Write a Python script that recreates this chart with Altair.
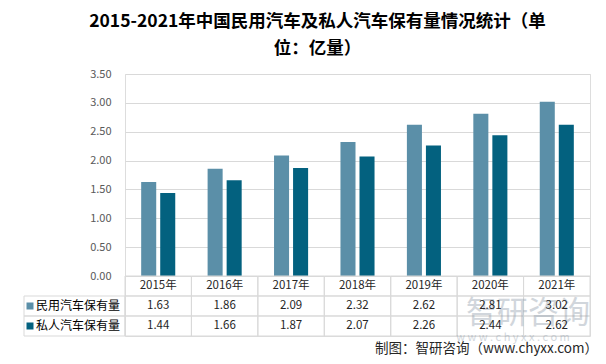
import altair as alt
import pandas as pd

FONT = "Noto Sans CJK SC"

years = ["2015年", "2016年", "2017年", "2018年", "2019年", "2020年", "2021年"]
series = ["民用汽车保有量", "私人汽车保有量"]
civil = [1.63, 1.86, 2.09, 2.32, 2.62, 2.81, 3.02]
private = [1.44, 1.66, 1.87, 2.07, 2.26, 2.44, 2.62]
colors = ["#5B8FA8", "#03617F"]
y_ticks = [0, 0.5, 1.0, 1.5, 2.0, 2.5, 3.0, 3.5]
header_row = "年份"
rows = [header_row] + series
title_lines = ["2015-2021年中国民用汽车及私人汽车保有量情况统计（单", "位：亿量）"]
source_text = "制图：智研咨询（www.chyxx.com）"

# ---- tables built from the lists ----
bar_records = []
for s, vals in zip(series, [civil, private]):
    for y, v in zip(years, vals):
        bar_records.append({"year": y, "series": s, "value": v})
bars_df = pd.DataFrame(bar_records)

cell_records = []
for y in years:
    cell_records.append({"year": y, "row": header_row, "text": y})
for s, vals in zip(series, [civil, private]):
    for y, v in zip(years, vals):
        cell_records.append({"year": y, "row": s, "text": f"{v:.2f}"})
cells_df = pd.DataFrame(cell_records)
left_df = pd.DataFrame({"row": series, "series": series})

W, H_PLOT, H_TABLE = 465, 202, 60

x_enc = alt.X("year:N", sort=years,
              scale=alt.Scale(domain=years, paddingInner=0, paddingOuter=0),
              axis=None)
color_scale = alt.Scale(domain=series, range=colors)
row_scale = alt.Scale(domain=rows, range=[H_PLOT, H_PLOT + H_TABLE],
                      paddingInner=0, paddingOuter=0)
y_row = alt.Y("row:N", scale=row_scale, axis=None)

bars = alt.Chart(bars_df).mark_bar().encode(
    x=x_enc,
    xOffset=alt.XOffset("series:N", sort=series,
                        scale=alt.Scale(domain=series, paddingInner=0.21, paddingOuter=0.85)),
    y=alt.Y("value:Q",
            scale=alt.Scale(domain=[0, 3.5], range=[H_PLOT, 0], nice=False, zero=True),
            axis=alt.Axis(values=y_ticks, format=".2f", grid=True, gridColor="#D9D9D9",
                          gridWidth=1, domain=False, ticks=False, labelPadding=14,
                          labelFontSize=11, labelColor="#595959", labelFont=FONT,
                          title=None)),
    color=alt.Color("series:N", scale=color_scale, legend=None),
)

cells = alt.Chart(cells_df).mark_rect(fill="transparent", stroke="#D9D9D9", strokeWidth=1).encode(
    x=x_enc, y=y_row
)
cell_text = alt.Chart(cells_df).mark_text(font=FONT, fontSize=11.5, color="#262626",
                                          baseline="middle", align="center").encode(
    x=x_enc, y=y_row, text="text:N"
)
left_cells = alt.Chart(left_df).mark_rect(fill="transparent", stroke="#D9D9D9", strokeWidth=1).encode(
    x=alt.value(-101), x2=alt.value(0), y=y_row
)
squares = alt.Chart(left_df).mark_square(size=49, opacity=1).encode(
    x=alt.value(-95), y=y_row,
    color=alt.Color("series:N", scale=color_scale, legend=None),
)
left_text = alt.Chart(left_df).mark_text(font=FONT, fontSize=12, color="#000000",
                                         align="left", baseline="middle").encode(
    x=alt.value(-89), y=y_row, text="series:N"
)

one = pd.DataFrame({"k": [0]})
wm_main = alt.Chart(one).mark_text(font=FONT, fontSize=31, color="#8E9BAA", opacity=0.4,
                                   align="center", baseline="middle").encode(
    x=alt.value(403), y=alt.value(240), text=alt.value("智研咨询"))
wm_sub = alt.Chart(one).mark_text(font=FONT, fontSize=11, color="#8E9BAA", opacity=0.4,
                                  align="center", baseline="middle").encode(
    x=alt.value(388), y=alt.value(264), text=alt.value("w w w . c h y x x . c o m"))
source = alt.Chart(one).mark_text(font=FONT, fontSize=13.5, color="#262626",
                                  align="right", baseline="alphabetic").encode(
    x=alt.value(473), y=alt.value(279), text=alt.value(source_text))

table = alt.layer(cells, wm_main, wm_sub, cell_text, left_cells, squares, left_text, source)

chart = alt.layer(bars, table).resolve_scale(y="independent").properties(
    width=W,
    height=H_PLOT + H_TABLE,
    autosize=alt.AutoSizeParams(type="none"),
    padding={"left": 117, "top": 66, "right": 8, "bottom": 20},
    title=alt.TitleParams(text=title_lines, font=FONT, fontSize=17.5, fontWeight="bold",
                          color="#000000", anchor="middle", frame="group", dx=-40,
                          offset=11, lineHeight=27),
).configure_view(stroke=None).configure(background="white")

chart.save("out.html", embed_options={"renderer": "svg", "actions": False})
